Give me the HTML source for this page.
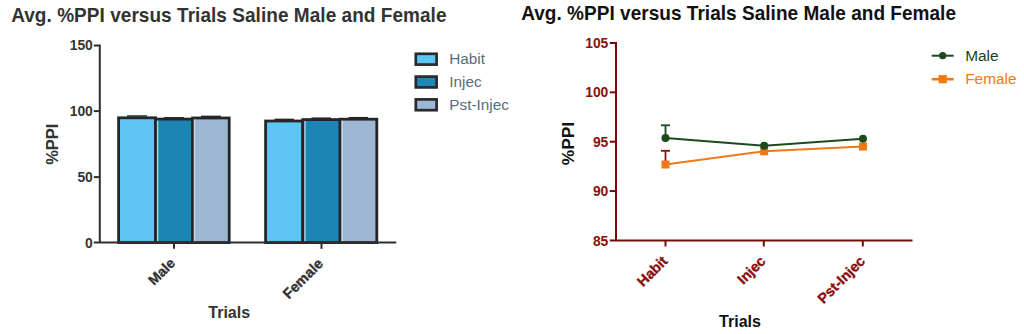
<!DOCTYPE html>
<html><head><meta charset="utf-8">
<style>
html,body{margin:0;padding:0;background:#fff;}
body{width:1024px;height:334px;overflow:hidden;}
svg{display:block;}
text{font-family:"Liberation Sans",sans-serif;}
</style></head>
<body>
<svg width="1024" height="334" viewBox="0 0 1024 334">
<rect x="0" y="0" width="1024" height="334" fill="#fff"/>

<!-- ============ LEFT CHART ============ -->
<text transform="translate(11.2,22) scale(1,1.05)" font-size="19" textLength="435.3" lengthAdjust="spacing" font-weight="bold" fill="#333">Avg. %PPI versus Trials Saline Male and Female</text>

<!-- bars group 1 -->
<g stroke="#262626" stroke-width="2.8">
  <rect x="118.6" y="117.8" width="37" height="124.8" fill="#5ec4f4"/>
  <rect x="155.6" y="119.1" width="36.9" height="123.5" fill="#1d84b6"/>
  <rect x="192.5" y="118" width="36.7" height="124.6" fill="#9db7d2"/>
  <rect x="265.6" y="121" width="37.2" height="121.6" fill="#5ec4f4"/>
  <rect x="302.8" y="119.6" width="37.3" height="123" fill="#1d84b6"/>
  <rect x="340.1" y="119.2" width="36.7" height="123.4" fill="#9db7d2"/>
</g>
<g fill="#d2e0ea" opacity="0.85">
  <rect x="156.9" y="120.6" width="1.4" height="120.6"/>
  <rect x="193.8" y="119.5" width="1.4" height="121.7"/>
  <rect x="304.3" y="121" width="1.4" height="120.2"/>
  <rect x="341.4" y="120.7" width="1.4" height="120.5"/>
</g>
<!-- error caps -->
<g stroke="#262626" stroke-width="1.5">
  <line x1="127" y1="116" x2="147" y2="116"/>
  <line x1="164" y1="117.8" x2="184" y2="117.8"/>
  <line x1="201" y1="116.4" x2="221" y2="116.4"/>
  <line x1="274.5" y1="119.4" x2="294" y2="119.4"/>
  <line x1="311.5" y1="118.2" x2="331" y2="118.2"/>
  <line x1="348.5" y1="117.7" x2="368" y2="117.7"/>
</g>

<!-- axes -->
<g stroke="#2e2e2e" stroke-width="2" fill="none">
  <polyline points="93.8,45.5 99.8,45.5 99.8,242.6"/>
  <line x1="93.8" y1="111.1" x2="99.8" y2="111.1"/>
  <line x1="93.8" y1="177.1" x2="99.8" y2="177.1"/>
  <line x1="93.8" y1="242.6" x2="396.2" y2="242.6"/>
  <line x1="174" y1="242.6" x2="174" y2="248.8"/>
  <line x1="321.5" y1="242.6" x2="321.5" y2="248.8"/>
</g>
<g font-size="14.6" font-weight="bold" fill="#333" text-anchor="end">
  <text transform="translate(92.8,50.3) scale(0.95,1)">150</text>
  <text transform="translate(92.8,116.1) scale(0.95,1)">100</text>
  <text transform="translate(92.8,182) scale(0.95,1)">50</text>
  <text transform="translate(92.8,247.6) scale(0.95,1)">0</text>
</g>
<text transform="translate(58,144.2) rotate(-90)" font-size="16.5" font-weight="bold" fill="#333" text-anchor="middle">%PPI</text>
<text x="229.2" y="318" font-size="16" font-weight="bold" fill="#333" text-anchor="middle">Trials</text>
<text transform="translate(176,264) rotate(-45)" font-size="14" font-weight="bold" fill="#333" stroke="#333" stroke-width="0.35" text-anchor="end">Male</text>
<text transform="translate(324,264.5) rotate(-45)" font-size="14.5" font-weight="bold" fill="#333" stroke="#333" stroke-width="0.35" text-anchor="end">Female</text>

<!-- left legend -->
<g stroke="#2a2a2a" stroke-width="2.7">
  <rect x="415.8" y="53.8" width="20.8" height="10.8" fill="#5ec4f4"/>
  <rect x="415.8" y="76.6" width="20.8" height="10.8" fill="#1f86b8"/>
  <rect x="415.8" y="99.4" width="20.8" height="10.8" fill="#9cb8d4"/>
</g>
<g font-size="15.3" fill="#5a6b80">
  <text x="449.3" y="64">Habit</text>
  <text x="449.3" y="87.3">Injec</text>
  <text x="449.3" y="110.4">Pst-Injec</text>
</g>

<!-- ============ RIGHT CHART ============ -->
<text transform="translate(521.2,19.6) scale(1,1.02)" font-size="19" textLength="434.8" lengthAdjust="spacing" font-weight="bold" fill="#111">Avg. %PPI versus Trials Saline Male and Female</text>

<g stroke="#7a0808" stroke-width="2" fill="none">
  <polyline points="609.8,43 616,43 616,240.6"/>
  <line x1="609.8" y1="92.35" x2="616" y2="92.35"/>
  <line x1="609.8" y1="141.7" x2="616" y2="141.7"/>
  <line x1="609.8" y1="191.05" x2="616" y2="191.05"/>
  <line x1="609.8" y1="240.6" x2="912.5" y2="240.6"/>
  <line x1="665.5" y1="240.6" x2="665.5" y2="246.5"/>
  <line x1="763.8" y1="240.6" x2="763.8" y2="246.5"/>
  <line x1="862.8" y1="240.6" x2="862.8" y2="246.5"/>
</g>
<g font-size="14.6" font-weight="bold" fill="#8a0e0e" text-anchor="end">
  <text transform="translate(608.3,48.1) scale(0.95,1)">105</text>
  <text transform="translate(608.3,97.45) scale(0.95,1)">100</text>
  <text transform="translate(608.3,146.8) scale(0.95,1)">95</text>
  <text transform="translate(608.3,196.15) scale(0.95,1)">90</text>
  <text transform="translate(608.3,245.8) scale(0.95,1)">85</text>
</g>
<text transform="translate(574.3,143.6) rotate(-90)" font-size="17.3" font-weight="bold" fill="#111" text-anchor="middle">%PPI</text>
<text x="740" y="326.5" font-size="16" font-weight="bold" fill="#111" text-anchor="middle">Trials</text>
<g font-size="14.4" font-weight="bold" fill="#8a0e0e" stroke="#8a0e0e" stroke-width="0.35" text-anchor="end">
  <text transform="translate(668.5,262) rotate(-45)">Habit</text>
  <text transform="translate(766.5,262) rotate(-45)">Injec</text>
  <text transform="translate(866,262) rotate(-45)">Pst-Injec</text>
</g>

<!-- error bars -->
<g stroke="#1b4a1b" stroke-width="1.8">
  <line x1="665.5" y1="138" x2="665.5" y2="125.3"/>
  <line x1="661" y1="125.3" x2="670" y2="125.3"/>
</g>
<g stroke="#8a1010" stroke-width="1.8">
  <line x1="665.5" y1="164.5" x2="665.5" y2="150.8"/>
  <line x1="661" y1="150.8" x2="670" y2="150.8"/>
</g>
<!-- female -->
<polyline points="665.5,164.5 764.2,151.3 863,146.6" fill="none" stroke="#ec7a16" stroke-width="2"/>
<g fill="#ef7716">
  <rect x="661.5" y="160.5" width="8" height="8"/>
  <rect x="760.2" y="147.3" width="8" height="8"/>
  <rect x="859" y="142.6" width="8" height="8"/>
</g>
<!-- male -->
<polyline points="665.5,138 764.2,145.8 863,138.75" fill="none" stroke="#1b4a1b" stroke-width="2"/>
<g fill="#1b4a1b">
  <circle cx="665.5" cy="138" r="4"/>
  <circle cx="764.2" cy="145.8" r="4"/>
  <circle cx="863" cy="138.75" r="4"/>
</g>

<!-- right legend -->
<line x1="931.7" y1="55.7" x2="953.7" y2="55.7" stroke="#1b4a1b" stroke-width="2"/>
<circle cx="942.7" cy="55.7" r="3.6" fill="#1b4a1b"/>
<line x1="931.7" y1="79.2" x2="953.7" y2="79.2" stroke="#f07a12" stroke-width="2.6"/>
<rect x="938.5" y="75.1" width="8.4" height="8.2" fill="#f07a12"/>
<text x="965.2" y="61" font-size="15.4" fill="#1b3f1b">Male</text>
<text x="965.2" y="84" font-size="15.4" fill="#f07a12">Female</text>
</svg>
</body></html>
